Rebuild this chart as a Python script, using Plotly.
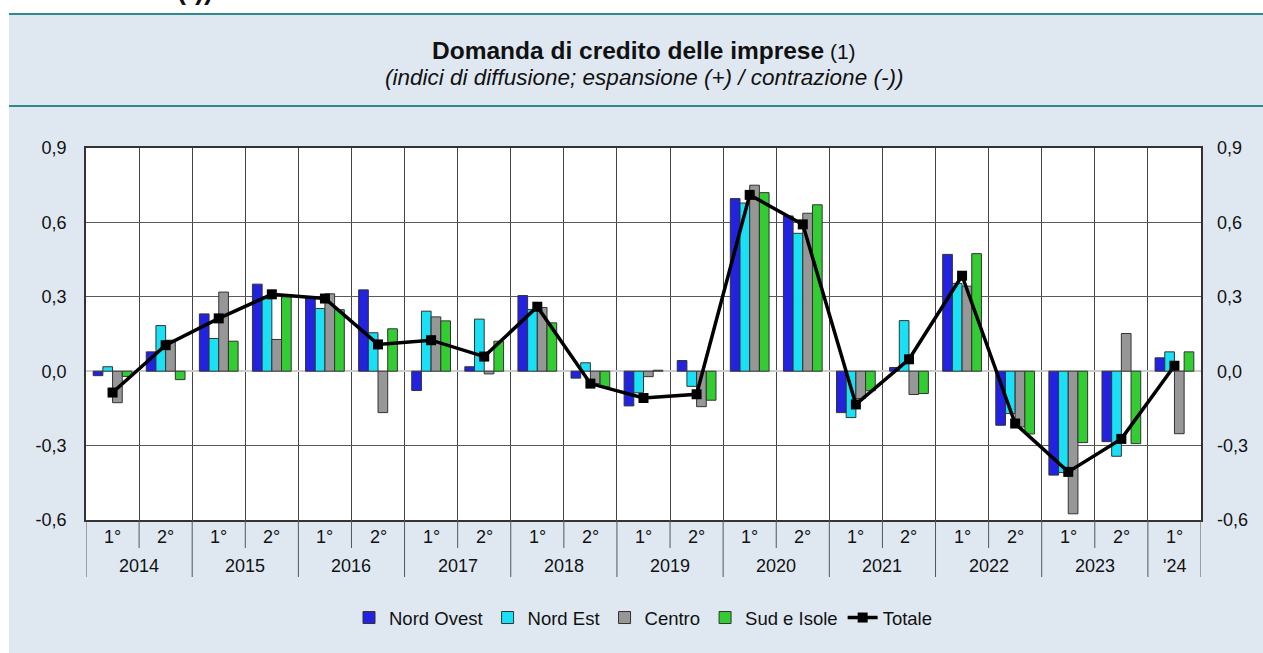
import plotly.graph_objects as go

# ---------------- data ----------------
halves = ["1°", "2°"] * 10 + ["1°"]
years = ["2014", "2014", "2015", "2015", "2016", "2016", "2017", "2017", "2018", "2018",
         "2019", "2019", "2020", "2020", "2021", "2021", "2022", "2022", "2023", "2023", "'24"]

nord_ovest = [-0.018, 0.078, 0.231, 0.351, 0.293, 0.328, -0.078, 0.018, 0.305, -0.028, -0.140,
              0.043, 0.696, 0.626, -0.167, 0.015, 0.471, -0.218, -0.419, -0.284, 0.054]
nord_est = [0.018, 0.184, 0.132, 0.293, 0.253, 0.155, 0.242, 0.210, 0.249, 0.034, -0.087,
            -0.061, 0.678, 0.556, -0.187, 0.204, 0.354, -0.171, -0.409, -0.343, 0.078]
centro = [-0.127, 0.125, 0.319, 0.128, 0.312, -0.167, 0.219, -0.011, 0.257, -0.050, -0.022,
          -0.143, 0.750, 0.637, -0.110, -0.094, 0.343, -0.225, -0.575, 0.152, -0.252]
sud_isole = [-0.021, -0.034, 0.121, 0.300, 0.248, 0.171, 0.203, 0.121, 0.195, -0.063, 0.004,
             -0.117, 0.720, 0.671, -0.079, -0.090, 0.474, -0.253, -0.288, -0.292, 0.078]
totale = [-0.086, 0.105, 0.213, 0.310, 0.293, 0.108, 0.125, 0.059, 0.260, -0.050, -0.108,
          -0.093, 0.711, 0.592, -0.134, 0.048, 0.385, -0.211, -0.406, -0.273, 0.022]

y_ticks = [-0.6, -0.3, 0.0, 0.3, 0.6, 0.9]
y_tick_labels = [f"{v:.1f}".replace(".", ",") for v in y_ticks]

# ---------------- figure ----------------
FONT = "Liberation Sans, Arial, sans-serif"
BG = "#dfe8f1"
W, H = 1263, 653
ML, MR, MT, MB = 86, 62, 148, 133
PW, PH = W - ML - MR, H - MT - MB


def px_x(px):
    return (px - ML) / PW


def px_y(py):
    return 1 - (py - MT) / PH


xs = list(range(len(halves)))

series = [
    ("Nord Ovest", nord_ovest, "#2222e0"),
    ("Nord Est", nord_est, "#19e0f5"),
    ("Centro", centro, "#979797"),
    ("Sud e Isole", sud_isole, "#33cc33"),
]

fig = go.Figure()
for name, vals, col in series:
    fig.add_trace(go.Bar(x=xs, y=vals, name=name, marker=dict(color=col, line=dict(color="#333333", width=1))))

fig.add_trace(go.Scatter(x=xs, y=totale, name="Totale", mode="lines+markers",
                         line=dict(color="black", width=3.5),
                         marker=dict(symbol="square", size=10, color="black")))
# helper trace for right axis
fig.add_trace(go.Scatter(x=[xs[0]], y=[y_ticks[0]], yaxis="y2", mode="markers", opacity=0,
                         showlegend=False, hoverinfo="skip"))

boundaries = [i - 0.5 for i in range(len(halves) + 1)]

shapes = []
# separators below the plot
for i, b in enumerate(boundaries):
    long_sep = i == 0 or i == len(halves) or years[i] != years[i - 1]
    shapes.append(dict(type="line", xref="x", yref="paper", x0=b, x1=b, y0=0,
                       y1=px_y(577) if long_sep else px_y(548),
                       line=dict(color="#555555", width=1)))
# white page margins
shapes.append(dict(type="rect", xref="paper", yref="paper", x0=px_x(0), x1=px_x(9),
                   y0=px_y(H), y1=px_y(0), fillcolor="white", line=dict(width=0)))
shapes.append(dict(type="rect", xref="paper", yref="paper", x0=px_x(0), x1=px_x(W),
                   y0=px_y(14), y1=px_y(0), fillcolor="white", line=dict(width=0)))
# teal rules
for py in (14, 106):
    shapes.append(dict(type="line", xref="paper", yref="paper", x0=px_x(9), x1=px_x(W),
                       y0=px_y(py), y1=px_y(py), line=dict(color="#2e8a8a", width=2)))

annotations = []
for i, h in enumerate(halves):
    annotations.append(dict(x=i, y=px_y(537), xref="x", yref="paper", text=h, showarrow=False,
                            font=dict(family=FONT, size=18, color="#111"), xanchor="center", yanchor="middle"))
# year labels
start = 0
for i in range(1, len(years) + 1):
    if i == len(years) or years[i] != years[start]:
        annotations.append(dict(x=(start + i - 1) / 2, y=px_y(566), xref="x", yref="paper", text=years[start],
                                showarrow=False, font=dict(family=FONT, size=18, color="#111"),
                                xanchor="center", yanchor="middle"))
        start = i

annotations.append(dict(x=0.5, y=px_y(50), xref="paper", yref="paper", showarrow=False,
                        text="<b>Domanda di credito delle imprese</b><span style='font-size:21px'> (1)</span>",
                        font=dict(family=FONT, size=24.5, color="#111"), xanchor="center", yanchor="middle"))
annotations.append(dict(x=0.5, y=px_y(78), xref="paper", yref="paper", showarrow=False,
                        text="<i>(indici di diffusione; espansione (+) / contrazione (-))</i>",
                        font=dict(family=FONT, size=22.5, color="#111"), xanchor="center", yanchor="middle"))
# cut-off heading at the very top of the page
annotations.append(dict(x=px_x(215), y=px_y(7), xref="paper", yref="paper", showarrow=False,
                        text="<b>/ contrazione (-))</b>", font=dict(family=FONT, size=27, color="#111"),
                        xanchor="right", yanchor="bottom"))

axis_font = dict(family=FONT, size=18, color="#111")
fig.update_layout(
    width=W, height=H, autosize=False,
    margin=dict(l=ML, r=MR, t=MT, b=MB, pad=0),
    paper_bgcolor=BG, plot_bgcolor="white",
    separators=",.",
    barmode="group", bargap=0.27, bargroupgap=0,
    font=dict(family=FONT, size=17, color="#111"),
    xaxis=dict(range=[-0.5, len(halves) - 0.5], tickvals=boundaries, showticklabels=False,
               showgrid=True, gridcolor="#444444", gridwidth=1, zeroline=False,
               showline=True, mirror=True, linecolor="#333333", linewidth=1.5, ticks=""),
    yaxis=dict(range=[y_ticks[0], y_ticks[-1]], tickvals=y_ticks, ticktext=y_tick_labels,
               showgrid=True, gridcolor="#5a5a5a", gridwidth=1,
               zeroline=True, zerolinecolor="#cccccc", zerolinewidth=1.5,
               showline=True, mirror=True, linecolor="#333333", linewidth=1.5,
               ticks="", ticklabelstandoff=14, tickfont=axis_font),
    yaxis2=dict(range=[y_ticks[0], y_ticks[-1]], tickvals=y_ticks, ticktext=y_tick_labels, overlaying="y",
                side="right", showgrid=False, zeroline=False, showline=False, ticks="",
                ticklabelstandoff=15, tickfont=axis_font),
    legend=dict(orientation="h", x=0.5, xanchor="center", y=px_y(618), yanchor="middle",
                bgcolor="rgba(0,0,0,0)", font=dict(family=FONT, size=18.5, color="#111"),
                itemwidth=30, traceorder="normal"),
    shapes=shapes, annotations=annotations,
)

fig.write_html("out.html", config={"displayModeBar": False},
               post_script="document.body.style.margin='0';document.body.style.overflow='hidden';")
